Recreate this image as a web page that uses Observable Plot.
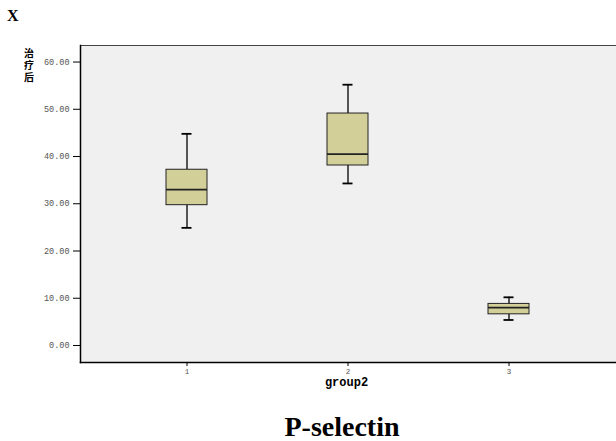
<!DOCTYPE html>
<html>
<head>
<meta charset="utf-8">
<script src="https://cdn.jsdelivr.net/npm/d3@7"></script>
<script src="https://cdn.jsdelivr.net/npm/@observablehq/plot@0.6"></script>
<style>
  body { margin: 0; background: white; }
  #wrap { position: relative; width: 616px; height: 441px; overflow: hidden; background: white; }
  #title { position: absolute; left: 7px; top: 8px; font: bold 16px/16px "Liberation Serif", serif; color: #000; }
  #chart { position: absolute; left: 0; top: 30px; }
  #caption { position: absolute; left: 0; top: 413px; width: 684px; text-align: center; font: bold 28px/28px "Liberation Serif", serif; color: #000; }
</style>
</head>
<body>
<div id="wrap">
  <div id="title">X</div>
  <div id="chart"></div>
  <div id="caption">P-selectin</div>
</div>
<script>
const groups = ["1", "2", "3"];
const mins    = [24.9, 34.3, 5.4];
const q1s     = [29.7, 38.1, 6.6];
const medians = [33.0, 40.5, 8.0];
const q3s     = [37.2, 49.1, 8.8];
const maxs    = [44.8, 55.2, 10.2];
const yTicks  = [0, 10, 20, 30, 40, 50, 60];
const xLabel  = "group2";
const yLabel  = "治\n疗\n后";

const data = groups.map((g, i) => ({g, min: mins[i], q1: q1s[i], median: medians[i], q3: q3s[i], max: maxs[i]}));

const chart = Plot.plot({
  width: 616,
  height: 370,
  marginTop: 15,
  marginBottom: 38,
  marginLeft: 80,
  marginRight: 0,
  x: {type: "band", domain: groups, paddingInner: 0.745, paddingOuter: 0.537, axis: null},
  y: {domain: [-3.6, 63.5], axis: null},
  style: {background: "white", fontFamily: "Liberation Mono, monospace", overflow: "visible"},
  marks: [
    Plot.frame({fill: "#f0f0f0", stroke: null}),
    Plot.frame({anchor: "top", stroke: "#444", strokeWidth: 1}),
    Plot.frame({anchor: "left", stroke: "black", strokeWidth: 1.5}),
    Plot.frame({anchor: "bottom", stroke: "black", strokeWidth: 1.5}),
    Plot.axisY({ticks: yTicks, tickFormat: d3.format(".2f"), tickSize: 7, tickPadding: 4, fontSize: 8.5, fill: "#555", stroke: "black", label: null}),
    Plot.axisX({tickSize: 4, tickPadding: 2, fontSize: 7.5, fill: "#555", stroke: "black", label: null}),
    Plot.ruleX(data, {x: "g", y1: "min", y2: "q1", stroke: "black", strokeWidth: 1.3}),
    Plot.ruleX(data, {x: "g", y1: "q3", y2: "max", stroke: "black", strokeWidth: 1.3}),
    Plot.barY(data, {x: "g", y1: "q1", y2: "q3", fill: "#d3cf99", stroke: "#222", strokeWidth: 1}),
    Plot.tickY(data, {x: "g", y: "median", stroke: "#222", strokeWidth: 1.8}),
    Plot.tickY(data, {x: "g", y: "min", stroke: "black", strokeWidth: 1.8, insetLeft: 15.5, insetRight: 15.5}),
    Plot.tickY(data, {x: "g", y: "max", stroke: "black", strokeWidth: 1.8, insetLeft: 15.5, insetRight: 15.5}),
    Plot.text([xLabel], {frameAnchor: "bottom", dy: 23, dx: -2, fontWeight: "bold", fontSize: 12, fill: "black"}),
    Plot.text([yLabel], {frameAnchor: "top-left", dx: -51.5, dy: 3, lineAnchor: "top", textAnchor: "middle", fontSize: 10, lineHeight: 1.2, fontWeight: "bold", fontFamily: "Noto Sans CJK SC", fill: "black"})
  ]
});
document.getElementById("chart").appendChild(chart);
</script>
</body>
</html>
